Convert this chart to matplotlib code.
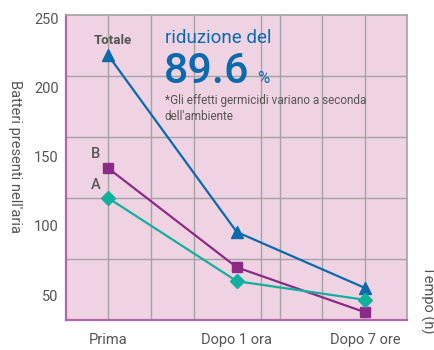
import numpy as np
import matplotlib
matplotlib.use("Agg")
import matplotlib.pyplot as plt

plt.rcParams['font.family'] = ['Roboto', 'DejaVu Sans']

# ---------------------------------------------------------------------------
# Data
# ---------------------------------------------------------------------------
time_labels = ["Prima", "Dopo 1 ora", "Dopo 7 ore"]
totale = [223, 95.5, 55]
serie_b = [141.5, 70, 37.5]
serie_a = [120, 60, 46.5]
y_ticks = [50, 100, 150, 200, 250]

blue = "#0a6aab"
purple = "#8c2a88"
teal = "#14b09e"
text_gray = "#555555"

# ---------------------------------------------------------------------------
# Figure
# ---------------------------------------------------------------------------
fig = plt.figure(figsize=(4.35, 3.5), dpi=100)
ax = fig.add_axes([0.151, 0.0843, 0.7845, 0.8737])
ax.set_facecolor("#efd3e3")

x = np.arange(len(time_labels))
ax.set_xlim(-0.3315, 2.3245)
ax.set_ylim(31.6, 252.4)

# background grid (irregular vertical spacing, 6 equal horizontal bands)
for gx in [0, 1 / 3, 2 / 3, 1.186, 4 / 3, 5 / 3, 2]:
    ax.axvline(gx, color="#a3a3a3", lw=1.0, zorder=1)
for gy in np.linspace(31.6, 252.4, 6)[1:-1]:
    ax.axhline(gy, color="#a3a3a3", lw=1.0, zorder=1)

ax.plot(x, totale, color=blue, lw=1.6, marker="^", ms=9, zorder=3, clip_on=False)
ax.plot(x, serie_b, color=purple, lw=1.6, marker="s", ms=7.5, zorder=4, clip_on=False)
ax.plot(x, serie_a, color=teal, lw=1.6, marker="D", ms=6.8, zorder=5, clip_on=False)

# series names next to the first point
ax.annotate("Totale", (x[0], totale[0]), xytext=(3, 11), textcoords="offset points",
            ha="center", va="center", fontsize=9.5, fontweight="bold", color=text_gray)
ax.annotate("B", (x[0], serie_b[0]), xytext=(-9, 10), textcoords="offset points",
            ha="center", va="center", fontsize=10.5, fontweight="medium", color=text_gray)
ax.annotate("A", (x[0], serie_a[0]), xytext=(-9, 9.5), textcoords="offset points",
            ha="center", va="center", fontsize=10.5, fontweight="medium", color=text_gray)

# axes styling
ax.set_xticks(x)
ax.set_xticklabels(time_labels, fontsize=10.5, color=text_gray)
ax.set_yticks(y_ticks)
ax.set_yticklabels([str(v) for v in y_ticks], fontsize=10.5, color=text_gray)
ax.tick_params(axis="x", length=0, pad=9)
ax.tick_params(axis="y", length=0, pad=5)

for side in ["left", "bottom"]:
    ax.spines[side].set_color("#b366aa")
    ax.spines[side].set_linewidth(1.6)
for side in ["top", "right"]:
    ax.spines[side].set_color("#a3a3a3")
    ax.spines[side].set_linewidth(1.2)

fig.text(0.035, 0.554, "Batteri presenti nell'aria", rotation=270, ha="center", va="center",
         fontsize=10.5, color=text_gray)
fig.text(0.982, 0.143, "Tempo (h)", rotation=270, ha="center", va="center",
         fontsize=10.5, color=text_gray)

# headline
fig.text(0.379, 0.878, "riduzione del", color=blue, fontsize=13.5, va="baseline")
fig.text(0.377, 0.762, "89.6", color=blue, fontsize=31, fontweight="medium", va="baseline")
fig.text(0.5915, 0.762, "%", color=blue, fontsize=12, va="baseline")
fig.text(0.379, 0.703, "*Gli effetti germicidi variano a seconda", color=text_gray,
         fontsize=8.5, va="baseline")
fig.text(0.379, 0.657, "dell'ambiente", color=text_gray, fontsize=8.5, va="baseline")

fig.savefig("out.png", dpi=100)
